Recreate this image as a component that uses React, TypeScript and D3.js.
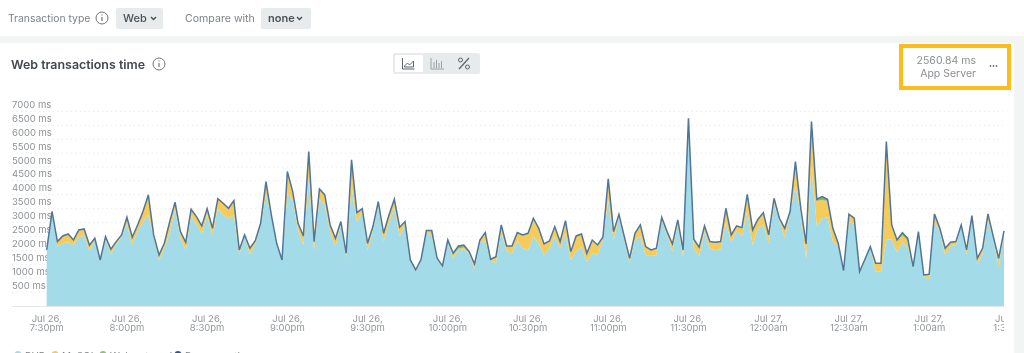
import React from "react";
import * as d3 from "d3";

// Top of the stack (ms) read every 2 minutes from Jul 26 7:30pm
const totalValues = [
  2016,3400,2316,2520,2592,2376,2736,2772,2184,2436,1656,2496,2040,2316,2556,3192,2472,2916,3396,3996,
  2556,1836,2256,3036,3732,2676,2292,3480,3216,2880,3504,2796,3864,3696,3516,3792,2016,2556,2076,2352,
  2976,4476,3276,2256,1656,4836,4116,2976,2520,5556,2316,4212,3996,2916,2436,3036,1896,5256,3360,3504,
  2256,2856,3756,2616,3276,3840,2832,3036,1656,1296,1680,2712,2712,1716,1440,2376,1896,2160,2196,1956,
  1512,2376,2640,1680,1776,2916,2160,2160,2640,2556,2616,3156,2796,2232,2340,2856,2316,3072,1956,2520,
  2592,1896,2376,2196,2472,4572,2676,3300,2496,1716,2616,2916,2136,2016,2076,3192,2676,2232,3096,2016,
  6756,2400,2112,2880,2316,2292,2316,3516,2556,2880,2820,4020,2736,3120,3360,2556,3876,3156,2796,3396,
  5196,3516,2232,6636,3840,3936,3840,2796,2256,1272,3300,3156,1236,1680,2136,1536,1536,5916,2916,2376,
  2640,2436,1416,2676,1116,1140,3312,2796,2076,2292,2316,2916,2016,3252,1716,2076,3312,2496,1716,2700,
];
const mysqlValues = [
  0,60,180,264,300,180,264,240,216,60,36,60,180,96,72,240,264,240,360,720,
  60,180,180,420,240,216,300,240,264,300,240,264,360,420,360,540,180,60,216,120,
  96,480,60,60,36,780,300,240,336,960,300,360,360,264,300,120,144,960,336,120,
  264,144,144,300,300,300,336,96,36,60,36,60,168,36,60,36,144,60,72,36,
  180,60,300,36,240,240,180,264,300,480,600,660,540,396,264,360,240,456,300,564,
  456,300,480,360,96,760,300,120,120,180,240,420,300,216,240,120,120,276,120,240,
  0,324,312,204,240,300,276,540,264,180,300,600,540,336,420,300,216,60,360,60,
  900,180,540,1620,900,660,600,480,120,36,300,180,36,36,36,300,300,3540,480,420,
  240,240,36,60,36,180,300,120,240,144,120,60,180,60,216,180,240,60,300,60,
];
// [point index, ms] where the thin green band can be seen
const externalReadings: [number, number][] = [
  [72,24],[76,36],[77,96],[78,96],[79,36],[81,24],[144,60],[145,120],[146,60],
  [158,24],[159,36],[160,96],[161,96],[162,24],
];
const yTickValues = [500,1000,1500,2000,2500,3000,3500,4000,4500,5000,5500,6000,6500,7000];
const xTimeLabels = ["7:30pm","8:00pm","8:30pm","9:00pm","9:30pm","10:00pm","10:30pm","11:00pm","11:30pm","12:00am","12:30am","1:00am","1:30am"];
const xDays = ["Jul 26,","Jul 26,","Jul 26,","Jul 26,","Jul 26,","Jul 26,","Jul 26,","Jul 26,","Jul 26,","Jul 27,","Jul 27,","Jul 27,","Jul 27,"];
const legendItems = [
  { name: "PHP", color: "#a4dbe8", cx: 18 },
  { name: "MySQL", color: "#f5cb5c", cx: 55 },
  { name: "Web external", color: "#8fc46f", cx: 103 },
  { name: "Response time", color: "#2f5597", cx: 178 },
];

const MINUTES_PER_POINT = 2;
const FONT = "Inter, 'Noto Sans', sans-serif";
const MUTED = "#8b8f92";

const externalValues = totalValues.map((_, i) => externalReadings.find((r) => r[0] === i)?.[1] ?? 0);
const rows = totalValues.map((t, i) => ({
  minute: i * MINUTES_PER_POINT,
  php: t - mysqlValues[i] - externalValues[i],
  mysql: mysqlValues[i],
  external: externalValues[i],
}));

function InfoIcon({ cx, cy }: { cx: number; cy: number }) {
  return (
    <g stroke="#70767a" fill="none">
      <circle cx={cx} cy={cy} r={6} strokeWidth={1} />
      <line x1={cx} x2={cx} y1={cy - 1} y2={cy + 3} strokeWidth={1.2} />
      <line x1={cx} x2={cx} y1={cy - 3.6} y2={cy - 2.4} strokeWidth={1.2} />
    </g>
  );
}
function Chevron({ x, y }: { x: number; y: number }) {
  return <path d={`M${x} ${y}l2.5 2.5l2.5 -2.5`} fill="none" stroke="#444a4e" strokeWidth={1.3} />;
}

export default function App() {
  const x = d3.scaleLinear().domain([0, 358]).range([46.7, 1004]);
  const y = d3.scaleLinear().domain([0, 7000]).range([306, 111.4]);
  const stack = d3.stack<any>().keys(["php", "mysql", "external"])(rows);
  const area = d3
    .area<any>()
    .x((d) => x(d.data.minute))
    .y0((d) => y(d[0]))
    .y1((d) => y(d[1]));
  const topLine = d3
    .line<number>()
    .x((_, i) => x(i * MINUTES_PER_POINT))
    .y((d) => y(d));
  const colors = ["#a4dbe8", "#f5cb5c", "#7fb96a"];

  return (
    <svg width={1024} height={353} style={{ position: "absolute", left: 0, top: 0, display: "block", filter: "blur(0.55px)" }} fontFamily={FONT}>
      <defs>
        <clipPath id="plot"><rect x={0} y={100} width={1004} height={253} /></clipPath>
      </defs>
      <rect width={1024} height={353} fill="#fff" />
      <rect y={36} width={1024} height={7} fill="#f3f5f5" />
      <rect x={1014} y={36} width={10} height={317} fill="#f3f5f5" />

      {/* Filter bar */}
      <text x={8} y={21.5} fontSize={10.4} fill="#7d8286">Transaction type</text>
      <InfoIcon cx={102} cy={18} />
      <rect x={116} y={8} width={47} height={21} rx={2} fill="#e8ebec" />
      <text x={123} y={21.5} fontSize={11} fill="#4a5054" fontWeight={500}>Web</text>
      <Chevron x={151} y={17} />
      <text x={185} y={21.5} fontSize={10.6} fill="#7d8286">Compare with</text>
      <rect x={261} y={8} width={50} height={21} rx={2} fill="#e8ebec" />
      <text x={268} y={21.5} fontSize={11} fill="#4a5054" fontWeight={600}>none</text>
      <Chevron x={297} y={17} />

      {/* Card header */}
      <text x={11} y={68.5} fontSize={12.4} fontWeight={600} fill="#41484c">Web transactions time</text>
      <InfoIcon cx={159} cy={64} />
      <rect x={393} y={53} width={87} height={21} rx={2} fill="#e8ebec" />
      <rect x={395} y={55} width={28} height={17} rx={1} fill="#fff" />
      <g fill="none" stroke="#5d6468" strokeWidth={1}>
        <path d="M402.5 58v11h12" />
        <path d="M404.5 66l3 -3l2 2l4 -4v6h-9z" />
        <path d="M431 58v11h13" stroke="#9aa0a3" />
        <path d="M434 68v-6M436.5 68v-8M439 68v-5M441.5 68v-7" stroke="#9aa0a3" />
        <path d="M459 69l10 -11" strokeWidth={1.2} />
        <circle cx={460.5} cy={60} r={2} />
        <circle cx={467.5} cy={67} r={2} />
      </g>

      {/* Highlighted readout */}
      <rect x={901} y={46} width={108} height={42} fill="#fff" stroke="#fbbc1e" strokeWidth={4} />
      <text x={976} y={64} textAnchor="end" fontSize={10.5} fill={MUTED}>2560.84 ms</text>
      <text x={976} y={76.5} textAnchor="end" fontSize={10.5} fill={MUTED}>App Server</text>
      <g fill="#70767a">
        <circle cx={990.5} cy={66} r={0.9} /><circle cx={993.5} cy={66} r={0.9} /><circle cx={996.5} cy={66} r={0.9} />
      </g>

      {/* Grid and y axis */}
      <g>
        {yTickValues.map((v) => (
          <g key={v}>
            <line x1={12} x2={1003} y1={y(v)} y2={y(v)} stroke="#e9ecec" strokeDasharray="1.5 3" />
            <text x={12} y={y(v) - 3.5} fontSize={9.5} fill="#8e9295">{`${v} ms`}</text>
          </g>
        ))}
        <line x1={12} x2={1004} y1={306.5} y2={306.5} stroke="#e6e8e8" />
      </g>

      {/* Stacked areas */}
      <g>
        {stack.map((s, i) => (
          <path key={s.key} d={area(s) ?? ""} fill={colors[i]} />
        ))}
        <path d={topLine(totalValues) ?? ""} fill="none" stroke="#4f7599" strokeWidth={1.5} strokeLinejoin="miter" />
      </g>

      {/* X axis */}
      <g clipPath="url(#plot)" textAnchor="middle" fontSize={9.5} fill="#93979a">
        {xTimeLabels.map((t, i) => (
          <g key={t}>
            <text x={x(i * 30)} y={321.5}>{xDays[i]}</text>
            <text x={x(i * 30)} y={331}>{t}</text>
          </g>
        ))}
      </g>

      {/* Legend, cut by the picture's lower edge */}
      <g fontSize={10} fill="#7d8286">
        {legendItems.map((l) => (
          <g key={l.name}>
            <circle cx={l.cx} cy={354.5} r={3.5} fill={l.color} />
            <text x={l.cx + 7} y={359.5}>{l.name}</text>
          </g>
        ))}
      </g>
    </svg>
  );
}
